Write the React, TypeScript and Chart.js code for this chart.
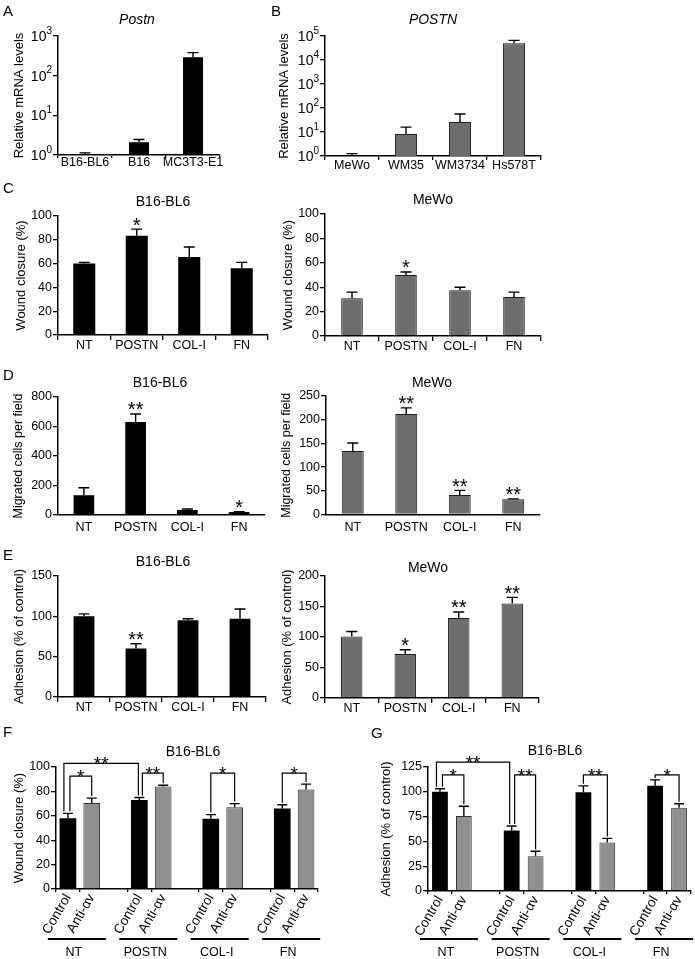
import { useEffect, useRef } from 'react';
import { Chart, registerables } from 'chart.js';

Chart.register(...registerables);

const FONT = "'Liberation Sans', Arial, Helvetica, sans-serif";
const BLACK = '#000000';
const DARK_GRAY = '#6e6e6e';
const LIGHT_GRAY = '#8f8f8f';

// ---------------- data ----------------
// A
const A_CATEGORIES = ['B16-BL6', 'B16', 'MC3T3-E1'];
const A_VALUES = [1.0, 2.1, 290];
const A_ERRORS = [1.13, 2.45, 380];
const A_TICK_VALUES = [1, 10, 100, 1000];
const A_TICK_EXPONENTS = ['0', '1', '2', '3'];
// B
const B_CATEGORIES = ['MeWo', 'WM35', 'WM3734', 'Hs578T'];
const B_VALUES = [1.0, 8.3, 26, 50000];
const B_ERRORS = [1.25, 16, 56, 66000];
const B_TICK_VALUES = [1, 10, 100, 1000, 10000, 100000];
const B_TICK_EXPONENTS = ['0', '1', '2', '3', '4', '5'];
// C, D, E
const TREATMENTS = ['NT', 'POSTN', 'COL-I', 'FN'];
const C_B16_VALUES = [60, 83.5, 65.5, 56];
const C_B16_ERRORS = [61, 89, 74, 61];
const C_B16_STARS = ['', '*', '', ''];
const C_MEWO_VALUES = [31, 50, 37.5, 32];
const C_MEWO_ERRORS = [36, 52.5, 40, 36];
const C_MEWO_STARS = ['', '*', '', ''];
const D_B16_VALUES = [134, 631, 34, 20];
const D_B16_ERRORS = [185, 685, 41, 22];
const D_B16_STARS = ['', '**', '', '*'];
const D_MEWO_VALUES = [134, 212, 41, 32];
const D_MEWO_ERRORS = [151, 225, 51, 33];
const D_MEWO_STARS = ['', '**', '**', '**'];
const E_B16_VALUES = [100, 60, 95, 97];
const E_B16_ERRORS = [103, 66, 97, 109];
const E_B16_STARS = ['', '**', '', ''];
const E_MEWO_VALUES = [101, 72, 131, 155];
const E_MEWO_ERRORS = [109, 79, 141, 165];
const E_MEWO_STARS = ['', '*', '**', '**'];
// F, G
const FG_GROUPS = ['NT', 'POSTN', 'COL-I', 'FN'];
const FG_TREATMENTS = ['Control', 'Anti-αv'];
const F_CONTROL = [58, 73, 57.5, 66];
const F_CONTROL_ERR = [62, 75, 61, 69];
const F_ANTI = [70.5, 84, 67, 81.5];
const F_ANTI_ERR = [74.5, 85, 70, 86];
const G_CONTROL = [100, 61, 99.5, 106];
const G_CONTROL_ERR = [103, 65.5, 106, 112];
const G_ANTI = [75.5, 35, 49, 84];
const G_ANTI_ERR = [85.5, 40, 53, 88];

type Bracket = { from: [number, number]; to: [number, number]; top: number; label: string };
const F_BRACKETS: Bracket[] = [
  { from: [0, 0], to: [0, 1], top: 92.5, label: '*' },
  { from: [0, 0], to: [1, 0], top: 103, label: '**' },
  { from: [1, 0], to: [1, 1], top: 95, label: '**' },
  { from: [2, 0], to: [2, 1], top: 95, label: '*' },
  { from: [3, 0], to: [3, 1], top: 95, label: '*' },
];
const G_BRACKETS: Bracket[] = [
  { from: [0, 0], to: [0, 1], top: 117, label: '*' },
  { from: [0, 0], to: [1, 0], top: 130, label: '**' },
  { from: [1, 0], to: [1, 1], top: 117, label: '**' },
  { from: [2, 0], to: [2, 1], top: 117, label: '**' },
  { from: [3, 0], to: [3, 1], top: 117, label: '*' },
];
// small horizontal leg shifts (px) so that nested brackets do not overlap
const F_LEG_SHIFT = [[2, 0], [-4, -1], [3, 0], [0, 0], [0, 0]];
const G_LEG_SHIFT = [[2.5, 0], [-3.5, -2], [3, 0], [0, 0], [0, 0]];

// ---------------- helpers ----------------
const slot = (g: number, t: number) => g * 3 + t;
const slotLabels = () =>
  FG_GROUPS.flatMap((_, g) => (g < FG_GROUPS.length - 1 ? [...FG_TREATMENTS, ''] : [...FG_TREATMENTS]));
const slotData = (vals: number[], t: number) =>
  FG_GROUPS.flatMap((_, g) => {
    const arr: (number | null)[] = [null, null];
    arr[t] = vals[g];
    return g < FG_GROUPS.length - 1 ? [...arr, null] : arr;
  });

type DS = {
  label: string;
  data: (number | null)[];
  errors: (number | null)[];
  stars?: string[];
  fill: string;
  edge: string;
  edgeW: number;
  barPct: number;
};

type PanelSpec = {
  id: string;
  area: [number, number, number, number]; // x0, x1, yTop, yBottom (page px)
  yTitle: string;
  yTitleX: number;
  yTitleSize: number;
  title: string;
  titleX: number;
  titleY: number;
  italic?: boolean;
  yType: 'linear' | 'logarithmic';
  yMin: number;
  yMax: number;
  yStep?: number;
  tickValues?: number[];
  tickExponents?: string[];
  yTickSize: number;
  labels: string[];
  xTickLen: number;
  xLabelCenter: number;
  xFont: number;
  rotated?: boolean;
  xAxisH: number;
  datasets: DS[];
  cap: number;
  starSize: number;
  starDy: number;
  brackets?: Bracket[];
  legShift?: number[][];
  groupLineDy?: number;
  groupLabelDy?: number;
};

const blackDS = (data: number[], errors: number[], stars: string[] | undefined, barPct: number): DS => ({
  label: 'B16-BL6', data, errors, stars, fill: BLACK, edge: BLACK, edgeW: 0, barPct,
});
const grayDS = (data: number[], errors: number[], stars: string[] | undefined, barPct: number): DS => ({
  label: 'MeWo', data, errors, stars, fill: DARK_GRAY, edge: '#1a1a1a', edgeW: 1, barPct,
});

const mainCommon = { cap: 5.5, starSize: 20, starDy: 2.5, xFont: 12.5, xAxisH: 26, yTickSize: 12.5 };

const PANELS: PanelSpec[] = [
  {
    ...mainCommon, id: 'A', area: [58, 220, 36, 155], yTitle: 'Relative mRNA levels', yTitleX: 19, yTitleSize: 13,
    title: 'Postn', titleX: 137, titleY: 20, italic: true, yType: 'logarithmic', yMin: 1, yMax: 1000,
    tickValues: A_TICK_VALUES, tickExponents: A_TICK_EXPONENTS, yTickSize: 14, labels: A_CATEGORIES,
    xTickLen: 3, xLabelCenter: 8, datasets: [blackDS(A_VALUES, A_ERRORS, undefined, 0.37)],
  },
  {
    ...mainCommon, id: 'B', area: [325, 541, 36, 156], yTitle: 'Relative mRNA levels', yTitleX: 284, yTitleSize: 13,
    title: 'POSTN', titleX: 433, titleY: 20, italic: true, yType: 'logarithmic', yMin: 1, yMax: 100000,
    tickValues: B_TICK_VALUES, tickExponents: B_TICK_EXPONENTS, yTickSize: 14, labels: B_CATEGORIES,
    xTickLen: 4, xLabelCenter: 9.5, datasets: [grayDS(B_VALUES, B_ERRORS, undefined, 0.41)],
  },
  {
    ...mainCommon, id: 'C1', area: [58, 268, 216, 335], yTitle: 'Wound closure (%)', yTitleX: 21, yTitleSize: 13,
    title: 'B16-BL6', titleX: 163, titleY: 202, yType: 'linear', yMin: 0, yMax: 100, yStep: 20,
    labels: TREATMENTS, xTickLen: 5, xLabelCenter: 11,
    datasets: [blackDS(C_B16_VALUES, C_B16_ERRORS, C_B16_STARS, 0.42)],
  },
  {
    ...mainCommon, id: 'C2', area: [325, 541, 214, 336], yTitle: 'Wound closure (%)', yTitleX: 288, yTitleSize: 13,
    title: 'MeWo', titleX: 433, titleY: 200, yType: 'linear', yMin: 0, yMax: 100, yStep: 20,
    labels: TREATMENTS, xTickLen: 5, xLabelCenter: 11,
    datasets: [grayDS(C_MEWO_VALUES, C_MEWO_ERRORS, C_MEWO_STARS, 0.4)],
  },
  {
    ...mainCommon, id: 'D1', area: [58, 265, 397, 515], yTitle: 'Migrated cells per field', yTitleX: 19, yTitleSize: 12.5,
    title: 'B16-BL6', titleX: 160, titleY: 383, yType: 'linear', yMin: 0, yMax: 800, yStep: 200,
    labels: TREATMENTS, xTickLen: 0, xLabelCenter: 13,
    datasets: [blackDS(D_B16_VALUES, D_B16_ERRORS, D_B16_STARS, 0.4)],
  },
  {
    ...mainCommon, id: 'D2', area: [326, 540, 396, 514.5], yTitle: 'Migrated cells per field', yTitleX: 287, yTitleSize: 12.5,
    title: 'MeWo', titleX: 432, titleY: 383, yType: 'linear', yMin: 0, yMax: 250, yStep: 50,
    labels: TREATMENTS, xTickLen: 0, xLabelCenter: 13,
    datasets: [grayDS(D_MEWO_VALUES, D_MEWO_ERRORS, D_MEWO_STARS, 0.41)],
  },
  {
    ...mainCommon, id: 'E1', area: [58, 266, 576, 697], yTitle: 'Adhesion (% of control)', yTitleX: 19, yTitleSize: 13,
    title: 'B16-BL6', titleX: 163, titleY: 562, yType: 'linear', yMin: 0, yMax: 150, yStep: 50,
    labels: TREATMENTS, xTickLen: 5, xLabelCenter: 11,
    datasets: [blackDS(E_B16_VALUES, E_B16_ERRORS, E_B16_STARS, 0.4)],
  },
  {
    ...mainCommon, id: 'E2', area: [325, 539, 576, 698], yTitle: 'Adhesion (% of control)', yTitleX: 287, yTitleSize: 13,
    title: 'MeWo', titleX: 428, titleY: 568, yType: 'linear', yMin: 0, yMax: 200, yStep: 50,
    labels: TREATMENTS, xTickLen: 5, xLabelCenter: 11,
    datasets: [grayDS(E_MEWO_VALUES, E_MEWO_ERRORS, E_MEWO_STARS, 0.4)],
  },
  {
    id: 'F', area: [56, 318, 767, 889], yTitle: 'Wound closure (%)', yTitleX: 19, yTitleSize: 13,
    title: 'B16-BL6', titleX: 193, titleY: 752, yType: 'linear', yMin: 0, yMax: 100, yStep: 20, yTickSize: 12.5,
    labels: slotLabels(), xTickLen: 3, xLabelCenter: 0, xFont: 13.5, rotated: true, xAxisH: 72,
    datasets: [
      { label: 'Control', data: slotData(F_CONTROL, 0), errors: slotData(F_CONTROL_ERR, 0), fill: BLACK, edge: BLACK, edgeW: 0, barPct: 0.7 },
      { label: 'Anti-αv', data: slotData(F_ANTI, 1), errors: slotData(F_ANTI_ERR, 1), fill: LIGHT_GRAY, edge: '#333333', edgeW: 1, barPct: 0.7 },
    ],
    cap: 5, starSize: 19, starDy: 7, brackets: F_BRACKETS, legShift: F_LEG_SHIFT, groupLineDy: 50, groupLabelDy: 64,
  },
  {
    id: 'G', area: [428, 691, 767, 891], yTitle: 'Adhesion (% of control)', yTitleX: 386, yTitleSize: 13,
    title: 'B16-BL6', titleX: 555, titleY: 751, yType: 'linear', yMin: 0, yMax: 125, yStep: 25, yTickSize: 12.5,
    labels: slotLabels(), xTickLen: 3, xLabelCenter: 0, xFont: 13.5, rotated: true, xAxisH: 72,
    datasets: [
      { label: 'Control', data: slotData(G_CONTROL, 0), errors: slotData(G_CONTROL_ERR, 0), fill: BLACK, edge: BLACK, edgeW: 0, barPct: 0.66 },
      { label: 'Anti-αv', data: slotData(G_ANTI, 1), errors: slotData(G_ANTI_ERR, 1), fill: LIGHT_GRAY, edge: '#333333', edgeW: 1, barPct: 0.66 },
    ],
    cap: 5, starSize: 19, starDy: 7, brackets: G_BRACKETS, legShift: G_LEG_SHIFT, groupLineDy: 48, groupLabelDy: 62,
  },
];

const LETTERS = [
  { t: 'A', x: 3, y: 3 },
  { t: 'B', x: 271, y: 3 },
  { t: 'C', x: 3, y: 180 },
  { t: 'D', x: 3, y: 367 },
  { t: 'E', x: 3, y: 547 },
  { t: 'F', x: 3, y: 724 },
  { t: 'G', x: 371, y: 725 },
];

function geometry(p: PanelSpec) {
  const [x0, x1, y0, y1] = p.area;
  const half = (p.yTitleSize * 1.2) / 2;
  const L = Math.floor(p.yTitleX - half - 1);
  const T = Math.floor(y0 - 34);
  const W = Math.ceil(x1 + 16 - L);
  const H = Math.ceil(y1 - T + p.xAxisH + 4);
  return { L, T, W, H, x0, x1, y0, y1, titlePad: p.yTitleX - L - half };
}

function decorPlugin(p: PanelSpec, L: number, T: number) {
  return {
    id: 'decor' + p.id,
    afterDatasetsDraw(chart: any) {
      const ctx = chart.ctx as CanvasRenderingContext2D;
      const ys = chart.scales.y;
      const xs = chart.scales.x;
      ctx.save();
      ctx.strokeStyle = '#000';
      ctx.fillStyle = '#000';
      ctx.lineWidth = 1.4;
      ctx.textAlign = 'center';
      ctx.textBaseline = 'alphabetic';
      ctx.font = `${p.starSize}px ${FONT}`;
      p.datasets.forEach((ds, di) => {
        const meta = chart.getDatasetMeta(di);
        meta.data.forEach((bar: any, i: number) => {
          const v = ds.data[i];
          const e = ds.errors[i];
          if (v == null || e == null) return;
          const x = bar.x;
          const yTop = bar.y;
          const yErr = ys.getPixelForValue(e);
          ctx.beginPath();
          ctx.moveTo(x, yTop);
          ctx.lineTo(x, yErr);
          ctx.moveTo(x - p.cap, yErr);
          ctx.lineTo(x + p.cap, yErr);
          ctx.stroke();
          const s = ds.stars ? ds.stars[i] : '';
          if (s) ctx.fillText(s, x, yErr + p.starDy);
        });
      });
      if (p.brackets) {
        ctx.lineWidth = 1.2;
        p.brackets.forEach((b, bi) => {
          const sh = p.legShift ? p.legShift[bi] : [0, 0];
          const ia = slot(b.from[0], b.from[1]);
          const ib = slot(b.to[0], b.to[1]);
          const xa = xs.getPixelForValue(ia) + sh[0];
          const xb = xs.getPixelForValue(ib) + sh[1];
          const ea = p.datasets[b.from[1]].errors[ia] as number;
          const eb = p.datasets[b.to[1]].errors[ib] as number;
          const yt = ys.getPixelForValue(b.top);
          const ya = ys.getPixelForValue(ea) - 2;
          const yb = ys.getPixelForValue(eb) - 2;
          ctx.beginPath();
          ctx.moveTo(xa, ya);
          ctx.lineTo(xa, yt);
          ctx.lineTo(xb, yt);
          ctx.lineTo(xb, yb);
          ctx.stroke();
          ctx.fillText(b.label, (xa + xb) / 2, yt + p.starDy);
        });
      }
      ctx.restore();
    },
    afterDraw(chart: any) {
      const ctx = chart.ctx as CanvasRenderingContext2D;
      ctx.save();
      ctx.fillStyle = '#000';
      ctx.strokeStyle = '#000';
      ctx.textAlign = 'center';
      ctx.textBaseline = 'middle';
      ctx.font = `${p.italic ? 'italic ' : ''}14px ${FONT}`;
      ctx.fillText(p.title, p.titleX - L, p.titleY - T);
      // power-of-ten tick labels (base "10" with raised exponent)
      if (p.tickValues && p.tickExponents) {
        const ys = chart.scales.y;
        const right = chart.chartArea.left - 6;
        p.tickValues.forEach((v, i) => {
          const y = ys.getPixelForValue(v);
          const ex = p.tickExponents![i];
          ctx.font = `10px ${FONT}`;
          const ew = ctx.measureText(ex).width;
          ctx.textAlign = 'left';
          ctx.fillText(ex, right - ew, y - 5);
          ctx.font = `${p.yTickSize}px ${FONT}`;
          ctx.textAlign = 'right';
          ctx.fillText('10', right - ew, y + 1);
        });
        ctx.textAlign = 'center';
      }
      if (p.groupLineDy != null) {
        const xs = chart.scales.x;
        const base = chart.chartArea.bottom;
        ctx.lineWidth = 2;
        ctx.font = `12.5px ${FONT}`;
        FG_GROUPS.forEach((g, gi) => {
          const c = (xs.getPixelForValue(slot(gi, 0)) + xs.getPixelForValue(slot(gi, 1))) / 2;
          const ly = base + (p.groupLineDy as number);
          ctx.beginPath();
          ctx.moveTo(c - 32, ly);
          ctx.lineTo(c + 26, ly);
          ctx.stroke();
          ctx.fillText(g, c - 6, base + (p.groupLabelDy as number));
        });
      }
      ctx.restore();
    },
  };
}

function buildConfig(p: PanelSpec, g: ReturnType<typeof geometry>): any {
  const yAxisW = g.x0 - g.L;
  const padTop = g.y0 - g.T;
  const padRight = g.L + g.W - g.x1;
  const padBottom = g.H - p.xAxisH - (g.y1 - g.T);
  const xLineHalf = p.xFont / 2;
  const xPad = p.rotated ? 0 : p.xLabelCenter - p.xTickLen - xLineHalf;

  const yTicks: any = {
    color: '#000',
    font: { family: FONT, size: p.yTickSize, lineHeight: 1 },
    padding: 1,
  };
  if (p.yStep) yTicks.stepSize = p.yStep;
  if (p.tickExponents) yTicks.display = false;
  const yScale: any = {
    type: p.yType,
    min: p.yMin,
    max: p.yMax,
    z: 1,
    afterFit: (s: any) => {
      s.width = yAxisW;
    },
    ticks: yTicks,
    grid: { drawOnChartArea: false, drawTicks: true, tickLength: 5, color: '#000', lineWidth: 1.3 },
    border: { display: true, color: '#000', width: 1.5 },
    title: {
      display: true,
      text: p.yTitle,
      color: '#000',
      font: { family: FONT, size: p.yTitleSize, lineHeight: 1.2 },
      padding: { top: g.titlePad, bottom: 0 },
    },
  };
  if (p.tickValues) {
    const tv = p.tickValues;
    yScale.afterBuildTicks = (s: any) => {
      s.ticks = tv.map((v) => ({ value: v }));
    };
  }

  const xGrid: any = {
    drawOnChartArea: false,
    drawTicks: p.xTickLen > 0,
    tickLength: p.xTickLen || 1,
    offset: true,
    color: p.rotated ? (c: any) => (c.index % 3 === 2 ? 'rgba(0,0,0,0)' : '#000') : '#000',
    lineWidth: 1.3,
  };
  const xScale: any = {
    type: 'category',
    offset: true,
    z: 1,
    afterFit: (s: any) => {
      s.height = p.xAxisH;
    },
    grid: xGrid,
    border: { display: true, color: '#000', width: 1.5 },
    ticks: {
      color: '#000',
      font: { family: FONT, size: p.xFont, lineHeight: 1 },
      padding: xPad,
      autoSkip: false,
      maxRotation: p.rotated ? 60 : 0,
      minRotation: p.rotated ? 60 : 0,
    },
  };

  return {
    type: 'bar',
    data: {
      labels: p.labels,
      datasets: p.datasets.map((d) => ({
        label: d.label,
        data: d.data,
        backgroundColor: d.fill,
        borderColor: d.edge,
        borderWidth: d.edgeW,
        barPercentage: d.barPct,
        categoryPercentage: 1,
        skipNull: true,
      })),
    },
    options: {
      responsive: false,
      maintainAspectRatio: false,
      animation: false,
      devicePixelRatio: 1,
      layout: { padding: { left: 0, top: padTop, right: padRight, bottom: padBottom } },
      plugins: { legend: { display: false }, tooltip: { enabled: false }, title: { display: false } },
      scales: { x: xScale, y: yScale },
    },
    plugins: [decorPlugin(p, g.L, g.T)],
  };
}

function PanelCanvas({ spec }: { spec: PanelSpec }) {
  const ref = useRef<HTMLCanvasElement>(null);
  const g = geometry(spec);
  useEffect(() => {
    if (!ref.current) return;
    const chart = new Chart(ref.current, buildConfig(spec, g));
    return () => chart.destroy();
  }, []);
  return (
    <canvas
      ref={ref}
      width={g.W}
      height={g.H}
      style={{ position: 'absolute', left: g.L, top: g.T, width: g.W, height: g.H }}
    />
  );
}

export default function App() {
  return (
    <div style={{ position: 'absolute', left: 0, top: 0, width: 695, height: 959, background: '#fff', overflow: 'hidden' }}>
      {PANELS.map((p) => (
        <PanelCanvas key={p.id} spec={p} />
      ))}
      {LETTERS.map((l) => (
        <div
          key={l.t}
          style={{ position: 'absolute', left: l.x, top: l.y, fontFamily: FONT, fontSize: 15, lineHeight: 1, color: '#000' }}
        >
          {l.t}
        </div>
      ))}
    </div>
  );
}
